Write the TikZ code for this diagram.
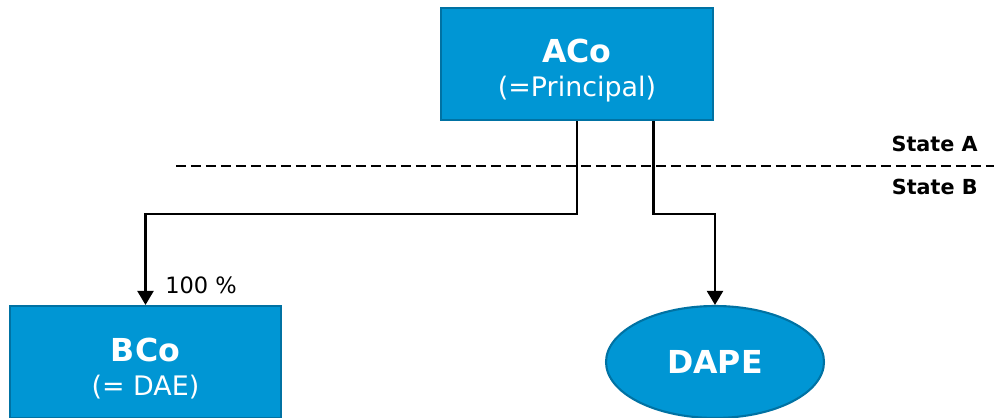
\documentclass[tikz,border=0pt]{standalone}
\usepackage{fontspec}
\setmainfont{DejaVu Sans}
\usepackage{tikz}
\usetikzlibrary{arrows.meta,shapes.geometric}
\definecolor{boxblue}{RGB}{0,150,212}
\definecolor{boxedge}{RGB}{0,114,163}

\begin{document}
\begin{tikzpicture}[x=0.02cm, y=-0.02cm,
	entity/.style={draw=boxedge, fill=boxblue, line width=1.2pt, text=white, align=center, inner sep=0pt},
	link/.style={draw=black, line width=1.2pt, -{Triangle[width=0.32cm,length=0.28cm]}}]
	\useasboundingbox (0,0) rectangle (994,418);
	\node [entity, minimum width=5.44cm, minimum height=2.24cm] (aco) at (577,64) {\rule{0pt}{21pt}{\fontsize{18}{22}\selectfont\bfseries ACo}\\[7.5pt]{\fontsize{15.3}{17}\selectfont (=Principal)}};
	\node [entity, minimum width=5.42cm, minimum height=2.24cm] (bco) at (145.5,362) {\rule{0pt}{21pt}{\fontsize{18}{22}\selectfont\bfseries BCo}\\[7.5pt]{\fontsize{15.3}{17}\selectfont (= DAE)}};
	\node [entity, ellipse, minimum width=4.36cm, minimum height=2.24cm] (dape) at (715,362) {{\fontsize{18}{22}\selectfont\bfseries DAPE}};
	\draw[dashed, line width=1.2pt, dash pattern=on 0.2cm off 0.1cm] (176,166) -- (994,166);
	\node [anchor=east, inner sep=0pt, font=\bfseries\fontsize{11.8}{14}\selectfont] (statea) at (978,144) {State A};
	\node [anchor=east, inner sep=0pt, font=\bfseries\fontsize{11.8}{14}\selectfont] (stateb) at (978,187) {State B};
	\draw[link] (aco.south) -- ++(0,93) -| (bco.north);
	\draw[link] ([xshift=1.53cm]aco.south) -- ++(0,93) -| (dape.north);
	\node [anchor=west, inner sep=0pt, font=\fontsize{12.8}{15}\selectfont] (share) at (165,285) {100 \%};
\end{tikzpicture}
\end{document}
